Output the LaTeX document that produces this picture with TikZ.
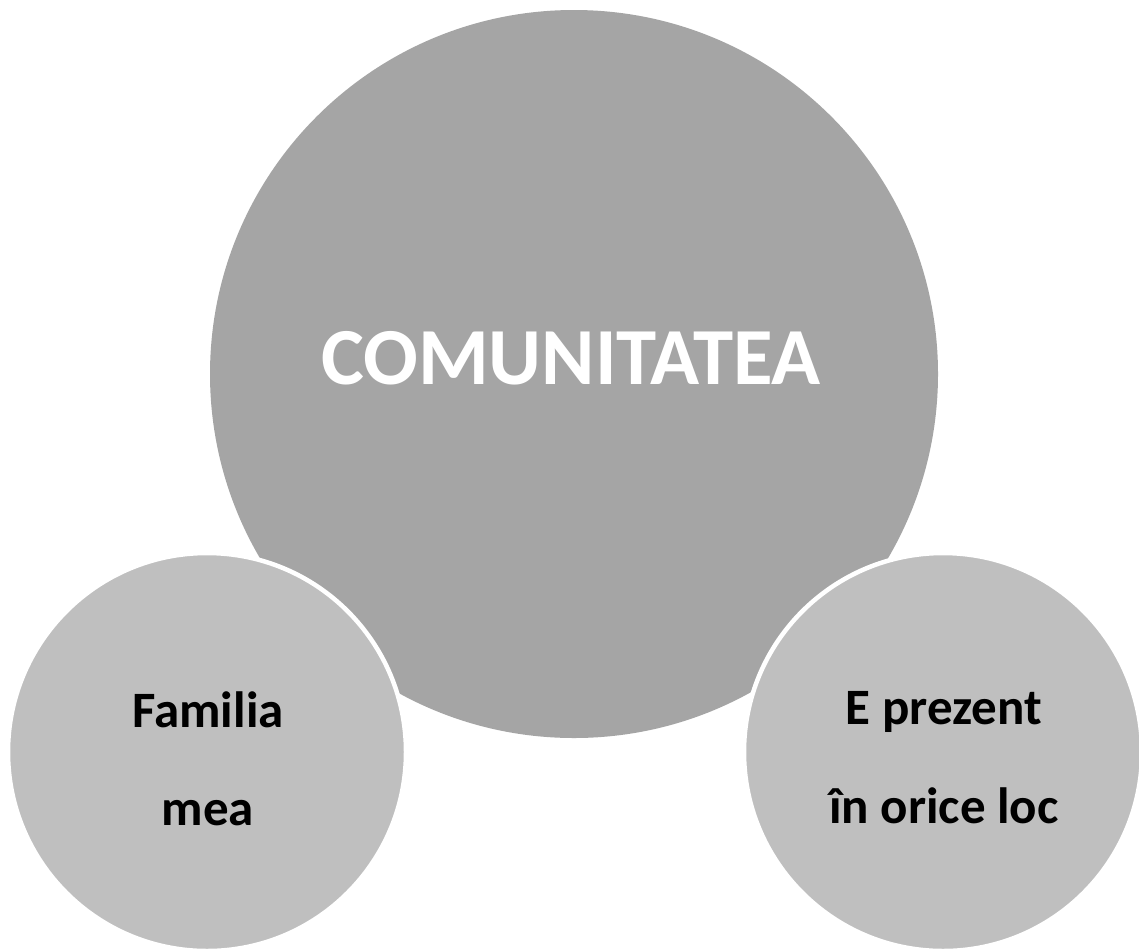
\documentclass[tikz,border=0pt]{standalone}
\usepackage{fontspec}
\setmainfont{Carlito}
\definecolor{bigfill}{HTML}{A5A5A5}
\definecolor{smallfill}{HTML}{BFBFBF}
\tikzset{
  bigcircle/.style={circle, fill=bigfill, draw=none, inner sep=0pt, minimum size=728pt},
  smallcircle/.style={circle, fill=smallfill, draw=white, line width=4.5pt, inner sep=0pt, minimum size=398pt},
  bigtext/.style={font=\bfseries\fontsize{81}{90}\selectfont, text=white, anchor=base, inner sep=0pt},
  smalltext/.style={font=\bfseries\fontsize{51}{58}\selectfont, text=black, anchor=base, inner sep=0pt}
}
\begin{document}
\begin{tikzpicture}[x=1pt,y=-1pt]
\useasboundingbox (0,0) rectangle (1139,948);
\fill[white] (0,0) rectangle (1139,948);
\node[bigcircle] (big) at (574,374) {};
\node[smallcircle] (left) at (207,752) {};
\node[smallcircle] (right) at (943,752) {};
\node[bigtext] (t1) at (571,384) {COMUNITATEA};
\node[smalltext] (l1) at (208,727) {Familia};
\node[smalltext] (l2) at (208,825) {mea};
\node[smalltext] (r1) at (944,724) {E prezent};
\node[smalltext] (r2) at (944,823) {în orice loc};
\end{tikzpicture}
\end{document}
